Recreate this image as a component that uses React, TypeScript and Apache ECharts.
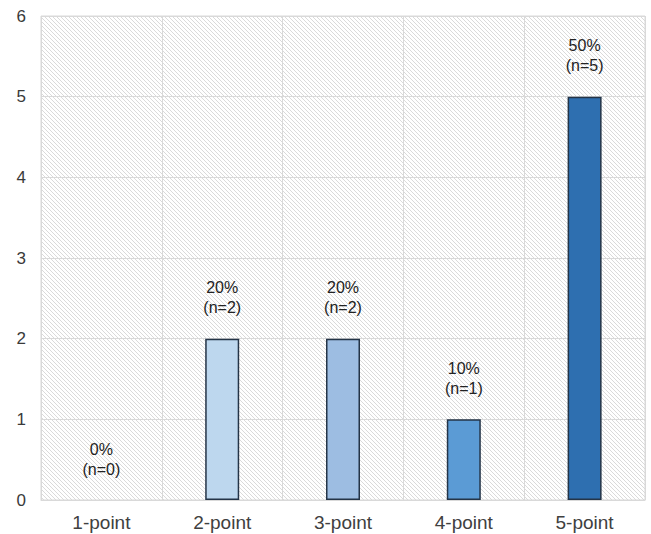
import React, { useEffect, useRef } from "react";
import * as echarts from "echarts";

const categories = ["1-point", "2-point", "3-point", "4-point", "5-point"];
const counts = [0, 2, 2, 1, 5];
const percents = ["0%", "20%", "20%", "10%", "50%"];
const barColors = ["#bdd7ee", "#bdd7ee", "#9dbde2", "#5b9bd5", "#2e6fb0"];
const yTicks = [0, 1, 2, 3, 4, 5, 6];

const patternSvg =
  "data:image/svg+xml;utf8," +
  encodeURIComponent(
    '<svg xmlns="http://www.w3.org/2000/svg" width="4" height="4"><rect width="4" height="4" fill="#ffffff"/><path d="M-1,-1 L5,5 M-1,3 L1,5 M3,-1 L5,1" stroke="#dadada" stroke-width="1"/></svg>'
  );

export default function App() {
  const ref = useRef<HTMLDivElement>(null);
  useEffect(() => {
    if (!ref.current) return;
    const chart = echarts.init(ref.current, null, { renderer: "svg" });
    const font = "'Liberation Sans', Arial, sans-serif";
    chart.setOption({
      animation: false,
      grid: {
        left: 41,
        right: 6,
        top: 16,
        bottom: 34,
        show: true,
        borderColor: "#d9d9d9",
        borderWidth: 1,
        backgroundColor: { image: patternSvg, repeat: "repeat" } as any,
      },
      xAxis: {
        type: "category",
        data: categories,
        axisLine: { lineStyle: { color: "#d9d9d9" } },
        axisTick: { show: false },
        splitLine: { show: true, lineStyle: { color: "#d9d9d9", width: 1 } },
        axisLabel: { color: "#404040", fontSize: 19, fontFamily: font, margin: 13 },
      },
      yAxis: {
        type: "value",
        min: yTicks[0],
        max: yTicks[yTicks.length - 1],
        interval: 1,
        axisLine: { show: false },
        axisTick: { show: false },
        splitLine: { lineStyle: { color: "#d9d9d9", width: 1 } },
        axisLabel: { color: "#3a3a3a", fontSize: 17, fontFamily: font, margin: 15 },
      },
      series: [
        {
          type: "bar",
          barWidth: 34,
          data: counts.map((v, i) => ({
            value: v,
            itemStyle: {
              color: barColors[i],
              borderColor: "#243447",
              borderWidth: v === 0 ? 0 : 1.5,
            },
          })),
          label: {
            show: true,
            position: "top",
            distance: 21,
            color: "#222222",
            fontSize: 16,
            fontFamily: font,
            lineHeight: 20,
            formatter: (p: any) => `${percents[p.dataIndex]}\n(n=${counts[p.dataIndex]})`,
          },
        },
      ],
    });
    return () => chart.dispose();
  }, []);
  return (
    <div
      ref={ref}
      style={{ position: "absolute", left: 0, top: 0, width: 651, height: 534 }}
    />
  );
}
